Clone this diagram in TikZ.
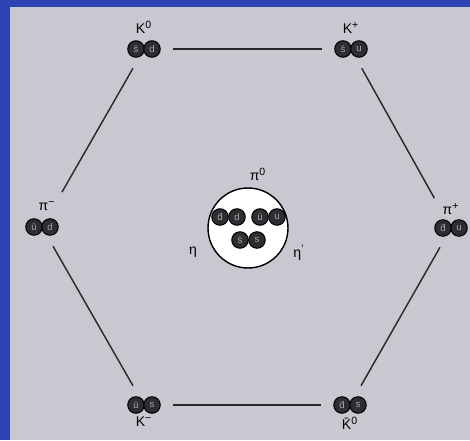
\documentclass[tikz,border=0pt]{standalone}
\usepackage{fontspec}
\setmainfont{Liberation Sans}
\usepackage{tikz}
\usetikzlibrary{positioning}
\definecolor{slideblue}{HTML}{2C44B4}
\definecolor{plategray}{HTML}{C7C8D0}
\definecolor{balldark}{HTML}{2E2E32}

\begin{document}
\begin{tikzpicture}[
  x=0.02cm, y=-0.02cm,
  node distance=0.1cm,
  meson/.style={minimum width=0.68cm, minimum height=0.34cm, inner sep=0pt},
  quark/.style={circle, draw=black, line width=0.6pt, fill=balldark,
    minimum size=0.33cm, inner sep=0pt, text=black!35,
    font=\fontsize{5.5}{5.5}\selectfont},
  lbl/.style={font=\footnotesize, inner sep=1pt},
  link/.style={thick, draw=black!85, shorten >=0.24cm, shorten <=0.24cm}
]
\useasboundingbox (0,0) rectangle (470,440);
\fill[slideblue] (0,0) rectangle (470,440);
\fill[plategray] (10,7) rectangle (470,440);

% the six outer mesons
\foreach \name/\x/\y/\qa/\qb in {Kz/144/49/\=s/d, Kp/351/49/\=s/u,
    Pm/42/227/\=u/d, Pp/451/228/\=d/u, Km/144/405/\=u/s, Kb/350/405/\=d/s} {
  \node[meson] (\name) at (\x,\y) {};
  \node[quark] (\name-a) at ({\x-8},\y) {\qa};
  \node[quark] (\name-b) at ({\x+8},\y) {\qb};
}

\node[lbl, above=0.1cm of Kz] (Kz-lbl) {K\textsuperscript{0}};
\node[lbl, above=0.1cm of Kp] (Kp-lbl) {K\textsuperscript{+}};
\node[lbl, above=0.1cm of Pm, xshift=0.1cm] (Pm-lbl) {π\textsuperscript{−}};
\node[lbl, above=0.05cm of Pp] (Pp-lbl) {π\textsuperscript{+}};
\node[lbl, below=0.02cm of Km] (Km-lbl) {K\textsuperscript{−}};
\node[lbl, below=0.02cm of Kb] (Kb-lbl) {\=K\textsuperscript{0}};

% the centre
\node[circle, draw=black, thick, fill=white, minimum size=1.6cm] (ctr) at (248,228) {};
\node[quark] (dd-a) at (220,217) {\=d};
\node[quark] (dd-b) at (237,217) {d};
\node[quark] (uu-a) at (260,217) {\=u};
\node[quark] (uu-b) at (277,217) {u};
\node[quark] (ss-a) at (240,240) {\=s};
\node[quark] (ss-b) at (257,240) {s};
\node[lbl, above=0.1cm of ctr, xshift=0.2cm] (pz-lbl) {π\textsuperscript{0}};
\node[lbl] (eta) at (193,252) {η};
\node[lbl] (etap) at (299,253) {η\textsuperscript{'}};

\draw[link] (Kz) -- (Kp);
\draw[link, shorten >=0.48cm] (Kp) -- (Pp);
\draw[link] (Pp) -- (Kb);
\draw[link] (Kb) -- (Km);
\draw[link] (Km) -- (Pm);
\draw[link, shorten <=0.6cm] (Pm) -- (Kz);
\end{tikzpicture}
\end{document}
